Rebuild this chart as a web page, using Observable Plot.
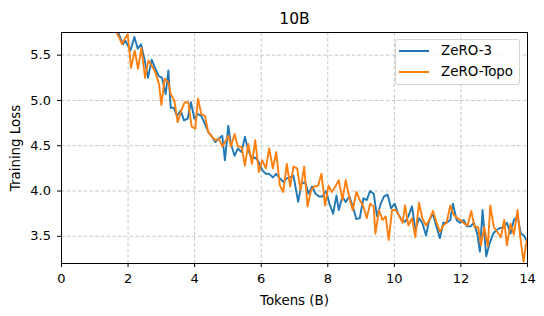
<!DOCTYPE html>
<html>
<head>
<meta charset="utf-8">
<script src="https://cdn.jsdelivr.net/npm/d3@7"></script>
<script src="https://cdn.jsdelivr.net/npm/@observablehq/plot@0.6"></script>
<style>
  html, body { margin: 0; padding: 0; background: #fff; }
  #wrap { position: relative; width: 544px; height: 316px; font-family: "DejaVu Sans", sans-serif; }
  .legend { position: absolute; left: 395px; top: 39px; width: 123px; height: 44px; border: 1px solid #d4d4d4; border-radius: 3px; background: rgba(255,255,255,0.85); font-size: 13.4px; color: #000; }
  .legend .row { position: absolute; left: 0; height: 16px; line-height: 16px; }
  .legend .sw { position: absolute; left: 3px; top: 7px; width: 30px; height: 2px; }
  .legend .lab { position: absolute; left: 45px; top: 0; white-space: nowrap; }
</style>
</head>
<body>
<div id="wrap"></div>
<script>
const title = "10B";
const xLabel = "Tokens (B)";
const yLabel = "Training Loss";
const seriesNames = ["ZeRO-3", "ZeRO-Topo"];
const seriesColors = ["#1f77b4", "#ff7f0e"];
const xTicks = [0, 2, 4, 6, 8, 10, 12, 14];
const yTicks = [3.5, 4.0, 4.5, 5.0, 5.5];

const zero3Tokens = [1.5,1.69,1.85,1.92,2.07,2.19,2.29,2.39,2.50,2.60,
  2.71,2.81,2.92,3.02,3.13,3.21,3.28,3.37,3.47,3.58,
  3.68,3.79,3.89,3.99,4.10,4.20,4.31,4.41,4.52,4.62,
  4.73,4.83,4.91,5.01,5.09,5.20,5.30,5.41,5.51,5.61,
  5.72,5.82,5.93,6.03,6.14,6.24,6.35,6.45,6.56,6.66,
  6.77,6.87,6.97,7.11,7.21,7.32,7.42,7.53,7.63,7.74,
  7.84,7.95,8.05,8.16,8.26,8.33,8.44,8.54,8.65,8.75,
  8.86,8.96,9.07,9.17,9.27,9.38,9.48,9.59,9.69,9.80,
  9.90,10.01,10.11,10.22,10.32,10.42,10.53,10.63,10.74,10.84,
  10.95,11.05,11.16,11.26,11.37,11.47,11.57,11.68,11.76,11.87,
  11.97,12.08,12.18,12.29,12.39,12.49,12.57,12.65,12.76,12.86,
  12.97,13.07,13.17,13.28,13.38,13.49,13.59,13.70,13.80,13.91,
  14.00];
const zero3Loss = [5.95,5.76,5.62,5.66,5.55,5.70,5.57,5.62,5.44,5.25,
  5.45,5.36,5.27,5.25,5.07,5.33,4.92,4.92,4.83,4.89,
  4.78,4.80,4.98,4.80,4.85,4.83,4.74,4.65,4.60,4.54,
  4.58,4.61,4.34,4.72,4.52,4.39,4.47,4.43,4.60,4.45,
  4.36,4.37,4.32,4.23,4.19,4.19,4.15,4.19,4.14,4.10,
  4.14,4.15,4.17,3.88,4.08,4.10,3.97,4.05,3.97,3.94,
  3.94,4.00,3.86,3.75,3.95,3.79,3.94,3.88,3.94,3.83,
  3.69,3.70,3.92,3.90,4.00,3.97,3.72,3.86,3.94,3.96,
  3.81,3.86,3.75,3.68,3.66,3.72,3.83,3.57,3.70,3.65,
  3.51,3.68,3.75,3.61,3.48,3.65,3.65,3.68,3.86,3.68,
  3.65,3.68,3.61,3.61,3.65,3.53,3.33,3.79,3.28,3.42,
  3.53,3.57,3.59,3.60,3.65,3.53,3.68,3.72,3.53,3.50,
  3.43];

const topoTokens = [1.5,1.64,1.75,1.82,1.90,1.99,2.09,2.20,2.30,2.40,
  2.51,2.61,2.72,2.82,2.93,3.00,3.10,3.21,3.28,3.39,
  3.49,3.60,3.70,3.81,3.91,4.02,4.10,4.20,4.31,4.41,
  4.52,4.62,4.73,4.83,4.94,5.02,5.09,5.20,5.30,5.41,
  5.51,5.61,5.72,5.82,5.93,6.03,6.14,6.24,6.35,6.45,
  6.56,6.66,6.77,6.87,6.97,7.08,7.18,7.29,7.39,7.50,
  7.60,7.71,7.81,7.92,8.02,8.12,8.23,8.33,8.44,8.54,
  8.65,8.75,8.86,8.96,9.07,9.17,9.27,9.38,9.43,9.54,
  9.64,9.74,9.83,9.93,10.04,10.14,10.25,10.32,10.42,10.53,
  10.63,10.74,10.84,10.95,11.05,11.16,11.26,11.37,11.47,11.57,
  11.68,11.78,11.89,11.99,12.10,12.20,12.31,12.41,12.52,12.60,
  12.70,12.81,12.88,12.99,13.09,13.20,13.30,13.38,13.49,13.59,
  13.70,13.78,13.88,13.95,14.00];
const topoLoss = [5.95,5.76,5.68,5.62,5.68,5.73,5.36,5.55,5.35,5.58,
  5.25,5.44,5.38,5.31,5.18,4.95,5.24,5.20,5.07,5.00,
  4.76,4.89,4.98,4.98,4.71,4.69,5.02,4.85,4.83,4.65,
  4.60,4.56,4.58,4.49,4.56,4.61,4.49,4.63,4.49,4.49,
  4.28,4.52,4.30,4.56,4.21,4.34,4.25,4.47,4.25,4.43,
  4.06,3.99,4.30,4.05,4.27,4.25,4.01,4.27,3.83,4.01,
  4.05,4.06,4.19,3.84,4.06,3.99,4.05,4.12,3.90,4.12,
  3.92,3.79,3.99,3.90,3.83,3.70,3.86,3.83,3.53,3.79,
  3.68,3.72,3.46,3.79,3.79,3.73,3.65,3.84,3.62,3.70,
  3.49,3.87,3.70,3.62,3.68,3.78,3.66,3.55,3.62,3.65,
  3.84,3.74,3.70,3.68,3.64,3.62,3.78,3.60,3.60,3.40,
  3.60,3.39,3.84,3.60,3.55,3.49,3.68,3.40,3.64,3.52,
  3.79,3.50,3.22,3.40,3.48];

const rows = [
  ...zero3Tokens.map((t, i) => ({tokens: t, loss: zero3Loss[i], series: seriesNames[0]})),
  ...topoTokens.map((t, i) => ({tokens: t, loss: topoLoss[i], series: seriesNames[1]}))
];

const gridStyle = {stroke: "#b8b8b8", strokeOpacity: 1, strokeWidth: 0.8, strokeDasharray: "3.5,2.2"};

const chart = Plot.plot({
  width: 544,
  height: 316,
  marginLeft: 61,
  marginRight: 17,
  marginTop: 32,
  marginBottom: 53,
  style: {fontFamily: "DejaVu Sans", fontSize: "13px", color: "#000", background: "#fff"},
  x: {domain: [0, 14]},
  y: {domain: [3.2, 5.75]},
  color: {domain: seriesNames, range: seriesColors},
  marks: [
    Plot.gridX(xTicks, gridStyle),
    Plot.gridY(yTicks, gridStyle),
    Plot.line(rows, {x: "tokens", y: "loss", stroke: "series", strokeWidth: 1.9, clip: true}),
    Plot.frame({stroke: "#000", strokeWidth: 1}),
    Plot.axisX(xTicks, {tickSize: 4, tickPadding: 6.5, fontSize: 13, label: null}),
    Plot.axisX({label: xLabel, ticks: [], tickSize: 0, labelAnchor: "center", labelArrow: "none", labelOffset: 41, fontSize: 13.4}),
    Plot.axisY(yTicks, {tickSize: 4, tickPadding: 6.5, fontSize: 13, tickFormat: d3.format(".1f"), label: null}),
    Plot.axisY({label: yLabel, ticks: [], tickSize: 0, labelAnchor: "center", labelArrow: "none", labelOffset: 51, fontSize: 13.4}),
    Plot.text([title], {frameAnchor: "top", dy: -13.5, lineAnchor: "middle", fontSize: 15.5, text: d => d})
  ]
});

const wrap = document.getElementById("wrap");
wrap.appendChild(chart);

const legend = document.createElement("div");
legend.className = "legend";
seriesNames.forEach((name, i) => {
  const row = document.createElement("div");
  row.className = "row";
  row.style.top = (3 + i * 21) + "px";
  row.style.width = "100%";
  const sw = document.createElement("div");
  sw.className = "sw";
  sw.style.background = seriesColors[i];
  const lab = document.createElement("div");
  lab.className = "lab";
  lab.textContent = name;
  row.appendChild(sw);
  row.appendChild(lab);
  legend.appendChild(row);
});
wrap.appendChild(legend);
</script>
</body>
</html>
